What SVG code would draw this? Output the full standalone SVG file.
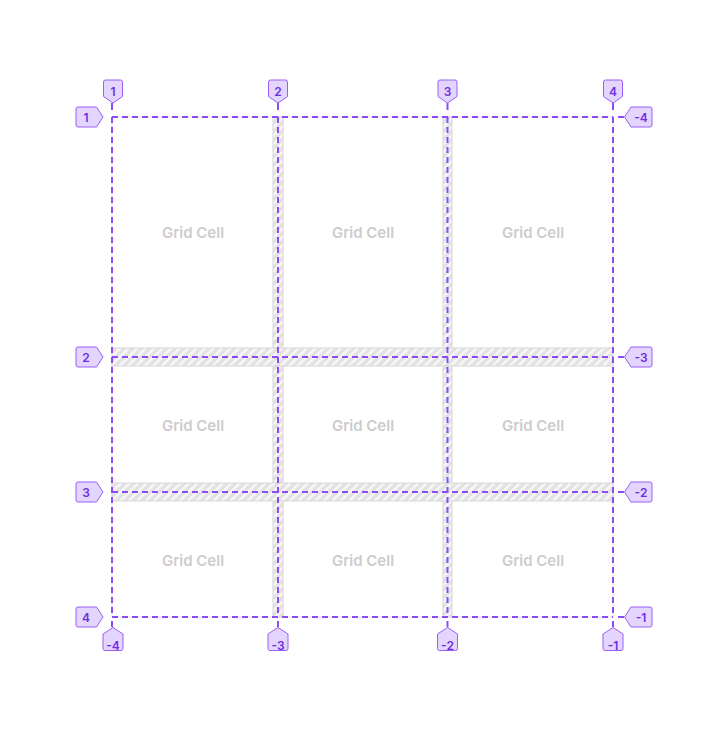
<svg xmlns="http://www.w3.org/2000/svg" width="722" height="730" viewBox="0 0 722 730">
<style>
.cell{font-family:Inter,"Liberation Sans",sans-serif;font-size:15px;font-weight:600;fill:#cccccc;text-anchor:middle}
.band{fill:url(#hatch);stroke:#d6d6d6;stroke-width:1}
.gl{stroke:#8b4cf6;stroke-width:2;stroke-dasharray:6 4;fill:none}
.stub{stroke:#8b4cf6;stroke-width:2}
.badge{fill:#e3d5fe;stroke:#9a5ff6;stroke-width:1}
.bt{font-family:Inter,"Liberation Sans",sans-serif;font-size:12px;font-weight:600;fill:#6d2ee0;text-anchor:middle}
</style>
<defs>
<pattern id="hatch" patternUnits="userSpaceOnUse" width="6" height="6" patternTransform="rotate(45)">
<rect width="6" height="6" fill="#e2e2e2"/>
<rect x="0" y="0" width="2.5" height="6" fill="#f8f8f8"/>
</pattern>
<path id="bTop" d="M-7.5,-23 H7.5 Q9.5,-23 9.5,-21 V-6.5 L0,0 L-9.5,-6.5 V-21 Q-9.5,-23 -7.5,-23 Z"/>
<path id="bBot" d="M-8,23 H8 Q10,23 10,21 V6.5 L0,0 L-10,6.5 V21 Q-10,23 -8,23 Z"/>
<path id="bLeft" d="M0,0 L-6.5,-10 H-25 Q-27,-10 -27,-8 V8 Q-27,10 -25,10 H-6.5 Z"/>
<path id="bRight" d="M0,0 L6.5,-10 H25.5 Q27.5,-10 27.5,-8 V8 Q27.5,10 25.5,10 H6.5 Z"/>
</defs>
<rect width="722" height="730" fill="#ffffff"/>

<g id="container">
<rect x="112" y="117" width="501" height="500" fill="none" stroke="#e2e2e2" stroke-width="1"/>
</g>

<g id="gaps">
<rect class="band" x="273" y="117" width="10" height="500"/>
<rect class="band" x="443" y="117" width="9" height="500"/>
<rect class="band" x="112" y="348" width="501" height="18"/>
<rect class="band" x="112" y="483" width="501" height="18"/>
</g>

<g id="cell-1-1"><text class="cell" x="193" y="238">Grid Cell</text></g>
<g id="cell-1-2"><text class="cell" x="363" y="238">Grid Cell</text></g>
<g id="cell-1-3"><text class="cell" x="533" y="238">Grid Cell</text></g>
<g id="cell-2-1"><text class="cell" x="193" y="431">Grid Cell</text></g>
<g id="cell-2-2"><text class="cell" x="363" y="431">Grid Cell</text></g>
<g id="cell-2-3"><text class="cell" x="533" y="431">Grid Cell</text></g>
<g id="cell-3-1"><text class="cell" x="193" y="566">Grid Cell</text></g>
<g id="cell-3-2"><text class="cell" x="363" y="566">Grid Cell</text></g>
<g id="cell-3-3"><text class="cell" x="533" y="566">Grid Cell</text></g>

<g id="connectors">
<line class="gl" x1="112" y1="117" x2="613" y2="117"/>
<line class="gl" x1="112" y1="357" x2="613" y2="357"/>
<line class="gl" x1="112" y1="492" x2="613" y2="492"/>
<line class="gl" x1="112" y1="617" x2="613" y2="617"/>
<line class="gl" x1="112" y1="117" x2="112" y2="617"/>
<line class="gl" x1="278" y1="117" x2="278" y2="617"/>
<line class="gl" x1="447.5" y1="117" x2="447.5" y2="617"/>
<line class="gl" x1="613" y1="117" x2="613" y2="617"/>
<line class="stub" x1="112" y1="103" x2="112" y2="110"/>
<line class="stub" x1="278" y1="103" x2="278" y2="110"/>
<line class="stub" x1="447.5" y1="103" x2="447.5" y2="110"/>
<line class="stub" x1="613" y1="103" x2="613" y2="110"/>
<line class="stub" x1="112" y1="621" x2="112" y2="627"/>
<line class="stub" x1="278" y1="621" x2="278" y2="627"/>
<line class="stub" x1="447.5" y1="621" x2="447.5" y2="627"/>
<line class="stub" x1="613" y1="621" x2="613" y2="627"/>
<line class="stub" x1="618" y1="117" x2="624" y2="117"/>
<line class="stub" x1="618" y1="357" x2="624" y2="357"/>
<line class="stub" x1="618" y1="492" x2="624" y2="492"/>
<line class="stub" x1="618" y1="617" x2="624" y2="617"/>
</g>

<g id="label-top-1"><use href="#bTop" class="badge" x="113" y="103"/><text class="bt" x="113" y="96">1</text></g>
<g id="label-top-2"><use href="#bTop" class="badge" x="278" y="103"/><text class="bt" x="278" y="96">2</text></g>
<g id="label-top-3"><use href="#bTop" class="badge" x="447.5" y="103"/><text class="bt" x="447.5" y="96">3</text></g>
<g id="label-top-4"><use href="#bTop" class="badge" x="613" y="103"/><text class="bt" x="613" y="96">4</text></g>

<g id="label-left-1"><use href="#bLeft" class="badge" x="103" y="117"/><text class="bt" x="86" y="121.5">1</text></g>
<g id="label-left-2"><use href="#bLeft" class="badge" x="103" y="357"/><text class="bt" x="86" y="361.5">2</text></g>
<g id="label-left-3"><use href="#bLeft" class="badge" x="103" y="492"/><text class="bt" x="86" y="496.5">3</text></g>
<g id="label-left-4"><use href="#bLeft" class="badge" x="103" y="617"/><text class="bt" x="86" y="621.5">4</text></g>

<g id="label-right-4"><use href="#bRight" class="badge" x="624.5" y="117"/><text class="bt" x="641" y="121.5">-4</text></g>
<g id="label-right-3"><use href="#bRight" class="badge" x="624.5" y="357"/><text class="bt" x="641" y="361.5">-3</text></g>
<g id="label-right-2"><use href="#bRight" class="badge" x="624.5" y="492"/><text class="bt" x="641" y="496.5">-2</text></g>
<g id="label-right-1"><use href="#bRight" class="badge" x="624.5" y="617"/><text class="bt" x="641" y="621.5">-1</text></g>

<g id="label-bottom-4"><use href="#bBot" class="badge" x="113" y="627.5"/><text class="bt" x="113" y="649.5">-4</text></g>
<g id="label-bottom-3"><use href="#bBot" class="badge" x="278" y="627.5"/><text class="bt" x="278" y="649.5">-3</text></g>
<g id="label-bottom-2"><use href="#bBot" class="badge" x="447.5" y="627.5"/><text class="bt" x="447.5" y="649.5">-2</text></g>
<g id="label-bottom-1"><use href="#bBot" class="badge" x="613" y="627.5"/><text class="bt" x="613" y="649.5">-1</text></g>
</svg>
